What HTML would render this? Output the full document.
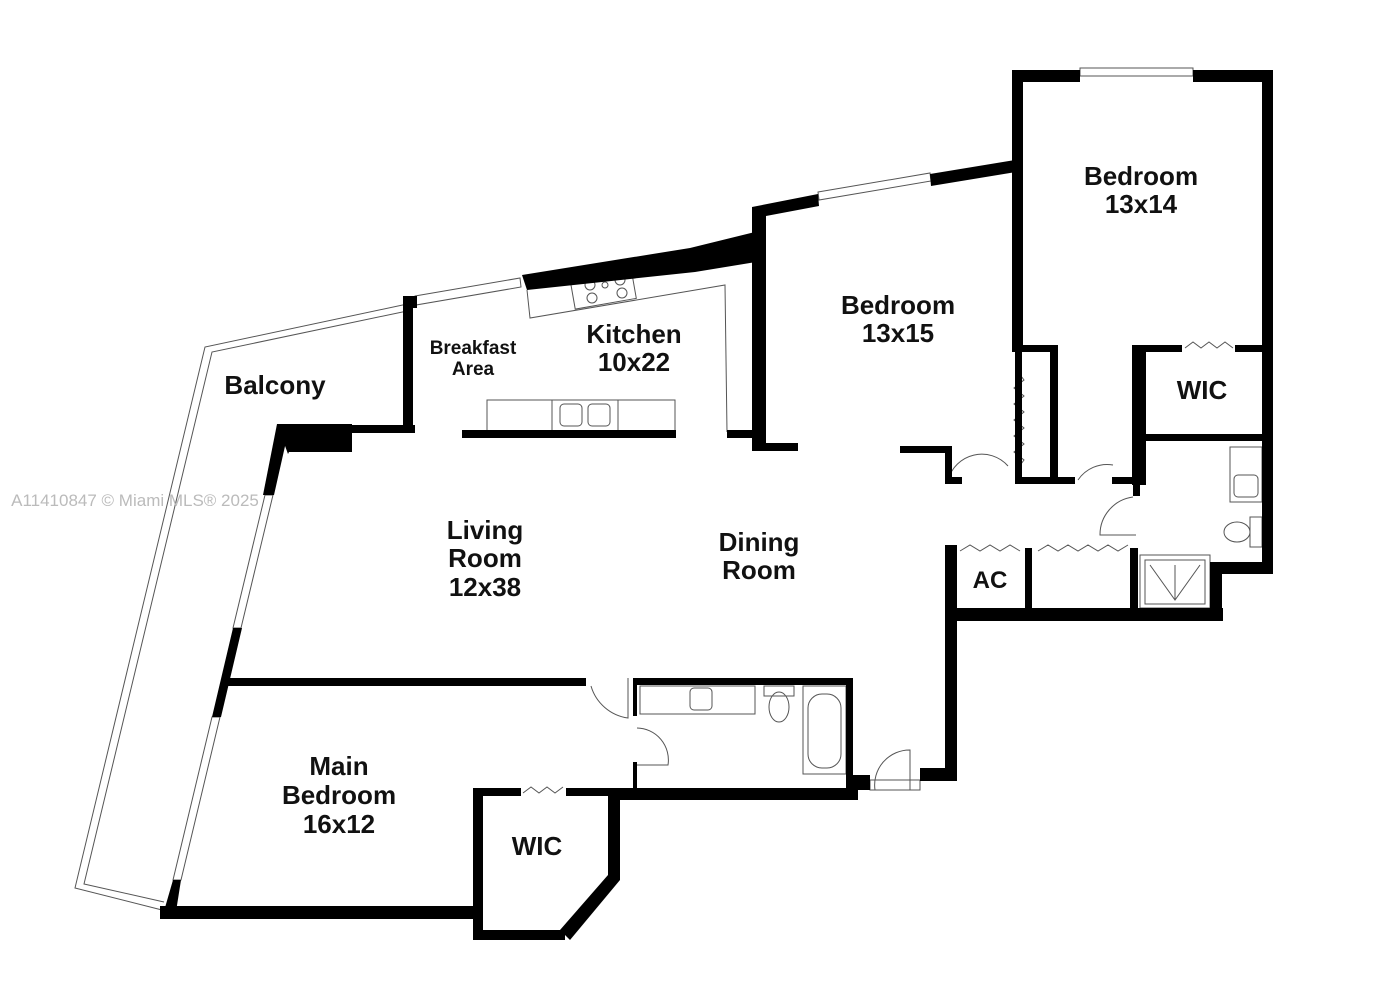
<!DOCTYPE html>
<html><head><meta charset="utf-8"><style>
body{margin:0;background:#fff}
svg{display:block}
text{font-family:"Liberation Sans",Arial,sans-serif;font-weight:bold;fill:#111;text-anchor:middle}
</style></head><body>
<svg width="1375" height="1000" viewBox="0 0 1375 1000" xmlns="http://www.w3.org/2000/svg">
<g fill="none" stroke="#555" stroke-width="1">
<polyline points="412,303 205,347 75,888 162,910"/>
<polyline points="412,310 212,352 84,884 164,902"/>
<rect x="1080" y="68" width="113" height="8"/>
<polygon points="818,192 930,173 931,181 819,200"/>
<polygon points="415,296 520,278 521,287 416,305"/>
<line x1="408" y1="310" x2="408" y2="430"/>
<polygon points="265,495 273,495 241,628 233,628"/>
<polygon points="212,717 220,717 181,880 173,880"/>
<polyline points="527,290 530,318 725,285 727,432"/>
<rect x="572" y="272" width="62" height="32" transform="rotate(-10 603 288)"/>
<circle cx="590" cy="285" r="5"/><circle cx="605" cy="285" r="3"/><circle cx="620" cy="280" r="5"/><circle cx="592" cy="298" r="5"/><circle cx="622" cy="293" r="5"/>
<rect x="487" y="400" width="188" height="32"/>
<rect x="552" y="400" width="66" height="32"/>
<rect x="560" y="404" width="22" height="22" rx="4"/><rect x="588" y="404" width="22" height="22" rx="4"/>
<rect x="640" y="686" width="115" height="28"/>
<rect x="690" y="688" width="22" height="22" rx="4"/>
<rect x="764" y="686" width="30" height="10"/>
<ellipse cx="779" cy="707" rx="10" ry="15"/>
<rect x="803" y="686" width="43" height="88"/>
<rect x="808" y="694" width="33" height="74" rx="14"/>
<rect x="1230" y="447" width="32" height="55"/>
<rect x="1234" y="475" width="24" height="22" rx="4"/>
<rect x="1250" y="517" width="12" height="30"/>
<ellipse cx="1237" cy="532" rx="13" ry="10"/>
<rect x="1140" y="555" width="70" height="53"/>
<rect x="1145" y="560" width="60" height="44"/>
<polyline points="1150,565 1175,600 1200,565"/><line x1="1175" y1="565" x2="1175" y2="600"/>
<path d="M591,686 A45,45 0 0 0 628,718 L628,678"/>
<path d="M637,728 A32,32 0 0 1 668,765 L637,765"/>
<path d="M1133,497 A38,38 0 0 0 1100,535 L1136,535"/>
<path d="M948,480 A35,35 0 0 1 1008,466"/>
<path d="M1078,480 A35,35 0 0 1 1113,465"/>
<path d="M875,790 A35,35 0 0 1 910,750 L910,790"/>
<rect x="870" y="780" width="50" height="10"/>
<polyline points="1018,372 1024,380 1014,388 1024,396 1014,404 1024,412 1014,420 1024,428 1014,436 1024,444 1014,452 1024,460 1018,468"/>
<polyline points="1185,348 1193,342 1201,348 1209,342 1217,348 1225,342 1233,348"/>
<polyline points="960,551 970,545 980,551 990,545 1000,551 1010,545 1020,551"/>
<polyline points="1038,551 1048,545 1058,551 1068,545 1078,551 1088,545 1098,551 1108,545 1118,551 1128,545"/>
<polyline points="523,793 531,787 539,793 547,787 555,793 563,787"/>
</g>
<g fill="#000">
<rect x="1012" y="70" width="68" height="12"/><rect x="1193" y="70" width="80" height="12"/>
<rect x="1012" y="70" width="11" height="282"/><rect x="1262" y="70" width="11" height="502"/>
<polygon points="752,207 818,194 819,206 766,216 766,450 752,450"/>
<polygon points="930,174 1015,160 1016,172 931,186"/>
<rect x="752" y="443" width="46" height="8"/>
<polygon points="522,275 690,248 755,232 756,262 695,272 527,290"/>
<rect x="403" y="296" width="10" height="136"/>
<rect x="403" y="296" width="14" height="12"/>
<rect x="462" y="430" width="214" height="8"/><rect x="727" y="430" width="33" height="8"/>
<rect x="350" y="425" width="65" height="8"/>
<polygon points="277,424 352,424 352,452 289,452 288,454"/>
<polygon points="277,424 290,424 274,495 263,495"/>
<polygon points="233,628 242,628 221,717 212,717"/>
<polygon points="173,880 181,880 175,918 162,918"/>
<rect x="160" y="906" width="315" height="13"/>
<rect x="228" y="678" width="358" height="8"/>
<rect x="473" y="788" width="10" height="152"/><rect x="473" y="930" width="92" height="10"/>
<polygon points="560,930 608,875 620,880 570,940"/>
<rect x="608" y="790" width="12" height="90"/>
<rect x="473" y="788" width="48" height="8"/><rect x="566" y="788" width="55" height="8"/>
<rect x="633" y="678" width="220" height="7"/><rect x="846" y="678" width="7" height="112"/>
<rect x="618" y="788" width="240" height="12"/><rect x="633" y="678" width="4" height="38"/><rect x="633" y="762" width="4" height="28"/>
<rect x="846" y="775" width="24" height="15"/>
<rect x="920" y="768" width="37" height="13"/>
<rect x="945" y="545" width="12" height="235"/>
<rect x="945" y="608" width="278" height="13"/>
<rect x="1210" y="562" width="63" height="12"/>
<rect x="1210" y="562" width="12" height="58"/>
<rect x="1025" y="548" width="7" height="60"/><rect x="1130" y="548" width="8" height="60"/>
<rect x="900" y="446" width="52" height="7"/><rect x="945" y="446" width="7" height="38"/><rect x="945" y="477" width="17" height="7"/>
<rect x="1015" y="345" width="7" height="139"/><rect x="1015" y="345" width="43" height="7"/><rect x="1050" y="345" width="8" height="139"/>
<rect x="1015" y="477" width="60" height="7"/><rect x="1112" y="477" width="25" height="7"/>
<rect x="1132" y="345" width="14" height="140"/><rect x="1132" y="345" width="50" height="7"/><rect x="1235" y="345" width="30" height="7"/>
<rect x="1145" y="434" width="120" height="7"/>
<rect x="1133" y="484" width="7" height="12"/>
</g>
<text x="1141" y="185" font-size="26">Bedroom</text><text x="1141" y="213" font-size="26">13x14</text>
<text x="898" y="314" font-size="26">Bedroom</text><text x="898" y="342" font-size="26">13x15</text>
<text x="1202" y="399" font-size="26">WIC</text>
<text x="634" y="343" font-size="26">Kitchen</text><text x="634" y="371" font-size="26">10x22</text>
<text x="473" y="354" font-size="19">Breakfast</text><text x="473" y="375" font-size="19">Area</text>
<text x="275" y="394" font-size="26">Balcony</text>
<text x="485" y="539" font-size="26">Living</text><text x="485" y="567" font-size="26">Room</text><text x="485" y="596" font-size="26">12x38</text>
<text x="759" y="551" font-size="26">Dining</text><text x="759" y="579" font-size="26">Room</text>
<text x="990" y="588" font-size="24">AC</text>
<text x="339" y="775" font-size="26">Main</text><text x="339" y="804" font-size="26">Bedroom</text><text x="339" y="833" font-size="26">16x12</text>
<text x="537" y="855" font-size="26">WIC</text>
<text x="135" y="506" font-size="17" style="font-weight:normal;fill:#bbb">A11410847 © Miami MLS® 2025</text>
</svg>
</body></html>
